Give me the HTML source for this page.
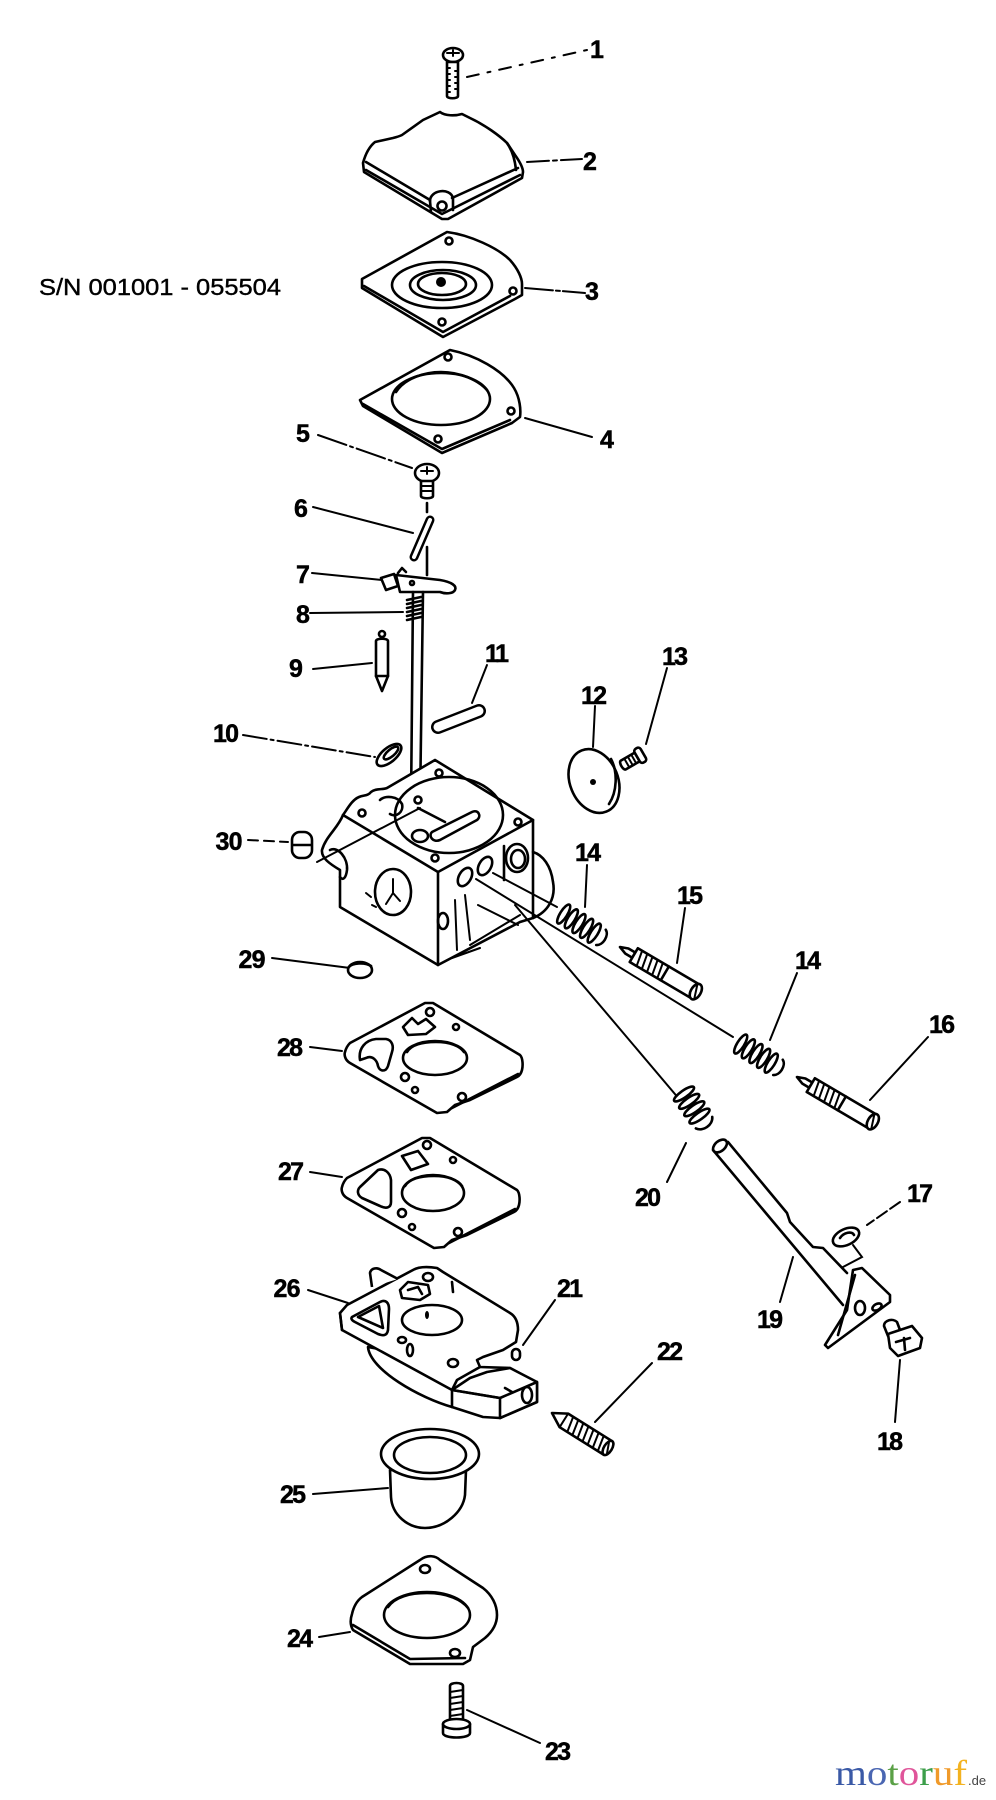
<!DOCTYPE html>
<html><head><meta charset="utf-8"><style>
html,body{margin:0;padding:0;background:#fff;}
svg{display:block;}
.o{fill:none;stroke:#000;stroke-width:2.6;stroke-linejoin:round;stroke-linecap:round;}
.t{fill:none;stroke:#000;stroke-width:2;stroke-linecap:round;}
.w{fill:#fff;stroke:#000;stroke-width:2.6;stroke-linejoin:round;}
.l{font-family:"Liberation Sans",Arial,sans-serif;font-weight:bold;font-size:25px;fill:#000;text-anchor:middle;stroke:#000;stroke-width:0.5;}
</style></head><body>
<svg width="996" height="1800" viewBox="0 0 996 1800" xmlns="http://www.w3.org/2000/svg">
<rect width="996" height="1800" fill="#fff"/>

<!-- S/N text -->
<text x="39" y="295" font-family="Liberation Sans, Arial, sans-serif" font-size="23" textLength="242" lengthAdjust="spacingAndGlyphs" stroke="#000" stroke-width="0.4">S/N 001001 - 055504</text>

<!-- Part 1 screw -->
<ellipse class="w" cx="453" cy="55" rx="10" ry="7"/>
<path class="t" d="M447,53 L459,53 M453,50 L453,56"/>
<path class="w" d="M447,62 L458,62 L458,96 C458,99 447,99 447,96 Z"/>
<path class="t" d="M447,68 L450,68 M447,74 L450,74 M447,80 L450,80 M447,86 L450,86 M447,92 L450,92 M455,71 L458,71 M455,77 L458,77 M455,83 L458,83 M455,89 L458,89"/>
<line class="t" x1="467" y1="77" x2="587" y2="50" stroke-dasharray="12,9,3,9"/>

<!-- Part 2 cover -->
<path class="o" d="M440,112 C445,116 455,116 462,114 L470,118 C485,125 500,136 507,143 L515,155 C520,162 523,168 523,172 L522,178 L448,219 L442,219 L364,172 L363,163 C366,152 370,146 375,142 L393,138 C397,137 400,136 402,135 L423,120 Z"/>
<path class="o" d="M366,162 L430,200 M452,198 L518,168 M507,143 C512,150 515,160 516,170"/>
<path class="o" d="M430,201 C430,190 450,187 453,198 L453,210"/>
<path class="o" d="M430,201 L431,212"/>
<circle class="o" cx="442" cy="206" r="4.5"/>
<path class="o" d="M366,170 L442,214 L520,175"/>
<line class="t" x1="527" y1="162" x2="582" y2="159" stroke-dasharray="22,4,4,4"/>

<!-- Part 3 diaphragm -->
<path class="o" d="M447,232 C470,235 498,248 510,260 C518,269 522,278 522,284 L522,295 L515,299 L443,337 L362,288 L362,279 Z"/>
<path class="o" d="M364,286 L443,332 L510,296"/>
<ellipse class="o" cx="442" cy="285" rx="50" ry="23"/>
<ellipse class="o" cx="443" cy="285" rx="33" ry="15"/>
<ellipse class="o" cx="442" cy="284" rx="24" ry="11"/>
<circle cx="441" cy="282" r="5" fill="#000"/>
<circle class="o" cx="449" cy="241" r="3.5"/>
<circle class="o" cx="513" cy="291" r="3.5"/>
<circle class="o" cx="442" cy="322" r="3.5"/>
<line class="t" x1="525" y1="288" x2="585" y2="293" stroke-dasharray="28,3,4,3"/>

<!-- Part 4 gasket -->
<path class="o" d="M450,350 C475,355 503,370 514,388 C520,398 521,410 520,417 L512,423 L442,453 L363,406 L360,400 Z"/>
<path class="o" d="M363,404 L442,449 L510,420"/>
<ellipse class="o" cx="441" cy="399" rx="49" ry="26"/>
<path class="o" d="M396,392 C405,378 425,372 441,372 C460,372 478,380 487,390"/>
<circle class="o" cx="448" cy="357" r="3.5"/>
<circle class="o" cx="511" cy="411" r="3.5"/>
<circle class="o" cx="438" cy="439" r="3.5"/>
<line class="t" x1="525" y1="418" x2="592" y2="437"/>

<!-- Part 5 screw -->
<line class="t" x1="318" y1="435" x2="412" y2="468" stroke-dasharray="30,4,3,4"/>
<ellipse class="w" cx="427" cy="473" rx="12" ry="9"/>
<path class="t" d="M421,471 L433,471 M427,467 L427,474"/>
<path class="w" d="M421,481 L433,481 L433,496 C433,499 421,499 421,496 Z"/>
<path class="t" d="M421,486 L433,486 M421,491 L433,491"/>
<line class="o" x1="427" y1="503" x2="427" y2="512"/>

<!-- Part 6 -->
<line class="t" x1="313" y1="507" x2="413" y2="533"/>
<line x1="430" y1="520" x2="414" y2="557" stroke="#000" stroke-width="9" stroke-linecap="round"/>
<line x1="430" y1="520" x2="414" y2="557" stroke="#fff" stroke-width="4" stroke-linecap="round"/>
<line class="o" x1="427" y1="547" x2="427" y2="575"/>

<!-- Part 7 lever -->
<line class="t" x1="312" y1="573" x2="382" y2="580"/>
<path class="w" d="M396,575 L440,580 C452,582 457,586 455,590 C453,594 445,594 440,592 L400,592 Z"/>
<path class="w" d="M381,578 L394,574 L398,586 L386,590 Z"/>
<path class="o" d="M398,573 L402,568 L406,572"/>
<circle class="o" cx="412" cy="583" r="2"/>

<!-- Rod (throttle shaft) -->
<line class="o" x1="413" y1="592" x2="411" y2="806"/>
<line class="o" x1="423" y1="592" x2="420" y2="806"/>

<!-- Part 8 spring -->
<line class="t" x1="310" y1="613" x2="403" y2="612"/>
<path class="o" d="M407,600 L421,597 M407,604 L421,601 M407,608 L421,605 M407,612 L421,609 M407,616 L421,613 M407,620 L421,617"/>

<!-- Part 9 -->
<line class="t" x1="313" y1="669" x2="372" y2="663"/>
<circle class="o" cx="382" cy="634" r="3"/>
<path class="w" d="M376,641 C376,638 388,638 388,641 L388,676 L382,691 L376,676 Z"/>
<line class="o" x1="376" y1="676" x2="388" y2="676"/>

<!-- Part 11 -->
<line class="t" x1="487" y1="665" x2="472" y2="703"/>
<line x1="438" y1="727" x2="479" y2="711" stroke="#000" stroke-width="14" stroke-linecap="round"/>
<line x1="438" y1="727" x2="479" y2="711" stroke="#fff" stroke-width="9" stroke-linecap="round"/>

<!-- Part 10 -->
<line class="t" x1="243" y1="735" x2="375" y2="757" stroke-dasharray="24,4,3,4"/>
<ellipse class="o" cx="389" cy="755" rx="15" ry="7" transform="rotate(-40 389 755)"/>
<ellipse class="o" cx="391" cy="753" rx="9" ry="3.5" transform="rotate(-40 391 753)"/>

<!-- Part 12 disc -->
<line class="t" x1="595" y1="706" x2="593" y2="747"/>
<ellipse class="o" cx="594" cy="781" rx="24" ry="33" transform="rotate(-22 594 781)"/>
<path class="o" d="M611,759 C618,772 617,792 609,804"/>
<circle cx="593" cy="782" r="3" fill="#000"/>

<!-- Part 13 screw -->
<line class="t" x1="667" y1="668" x2="646" y2="744"/>
<g transform="translate(632,760) rotate(-30)">
<path class="w" d="M-10,-5 L6,-5 L6,5 L-10,5 C-13,5 -13,-5 -10,-5 Z"/>
<path class="t" d="M-6,-5 L-6,5 M-2,-5 L-2,5 M2,-5 L2,5"/>
<rect class="w" x="6" y="-8" width="7" height="16" rx="3"/>
</g>

<!-- Carburetor body -->
<path class="w" d="M343,815 C338,828 326,836 322,850 C321,858 330,864 340,870 L340,907 L438,965 L520,922 L533,918 C548,912 556,898 553,882 C551,866 543,855 533,852 L533,820 Z"/>
<path class="w" d="M435,760 L533,820 L438,872 L343,815 C348,808 352,800 359,797 C364,795 368,796 371,792 C376,788 382,790 387,788 Z"/>
<line class="o" x1="438" y1="872" x2="438" y2="965"/>
<ellipse class="o" cx="449" cy="815" rx="54" ry="38"/>
<path class="o" d="M380,800 C385,795 398,796 402,804 C404,812 396,818 390,814"/>
<path class="o" d="M432,832 L472,812 C478,809 482,816 477,820 L440,840 C433,843 428,836 432,832 Z"/>
<path class="o" d="M418,808 L445,822"/>
<circle class="o" cx="418" cy="800" r="3.5"/>
<ellipse class="o" cx="420" cy="836" rx="8" ry="6"/>
<circle class="o" cx="439" cy="773" r="3.5"/>
<circle class="o" cx="362" cy="813" r="3.5"/>
<circle class="o" cx="518" cy="822" r="3.5"/>
<circle class="o" cx="435" cy="858" r="3.5"/>
<line class="t" x1="317" y1="862" x2="420" y2="808"/>
<path class="o" d="M330,850 C338,846 348,858 347,870 C346,878 343,881 340,877"/>
<ellipse class="o" cx="393" cy="892" rx="18" ry="23"/>
<path class="t" d="M393,879 L393,893 L386,904 M393,893 L400,901"/>
<path class="t" d="M366,893 L371,897 M372,905 L376,907"/>
<ellipse class="o" cx="465" cy="877" rx="6" ry="10" transform="rotate(30 465 877)"/>
<ellipse class="o" cx="485" cy="866" rx="6" ry="10" transform="rotate(30 485 866)"/>
<ellipse class="o" cx="517" cy="858" rx="11" ry="14"/>
<ellipse class="o" cx="518" cy="859" rx="7" ry="9"/>
<path class="o" d="M504,846 L504,880"/>
<ellipse class="o" cx="443" cy="921" rx="5" ry="8"/>
<path class="t" d="M455,900 L457,950 M465,895 L470,940 M470,945 L520,915 M478,905 L518,925 M452,958 L480,948"/>
<path class="o" d="M533,852 L533,918"/>

<!-- Part 30 -->
<line class="t" x1="248" y1="840" x2="288" y2="842" stroke-dasharray="10,6"/>
<rect class="w" x="292" y="832" width="20" height="26" rx="8"/>
<line class="o" x1="293" y1="845" x2="311" y2="845"/>

<!-- Part 29 -->
<line class="t" x1="272" y1="958" x2="350" y2="968"/>
<ellipse class="w" cx="360" cy="970" rx="12" ry="8"/>
<path class="o" d="M349,967 C352,963 365,962 371,966"/>

<!-- exploded lines -->
<line class="t" x1="493" y1="873" x2="557" y2="907"/>
<line class="t" x1="476" y1="879" x2="733" y2="1037"/>
<line class="t" x1="515" y1="905" x2="680" y2="1100"/>

<!-- Spring 14a -->
<line class="t" x1="587" y1="865" x2="585" y2="907"/>
<g transform="translate(562,913) rotate(32)">
<ellipse class="o" cx="2" cy="0" rx="3.5" ry="11"/><ellipse class="o" cx="11" cy="0" rx="3.5" ry="11"/><ellipse class="o" cx="20" cy="0" rx="3.5" ry="11"/><ellipse class="o" cx="29" cy="0" rx="3.5" ry="11"/><ellipse class="o" cx="38" cy="0" rx="3.5" ry="11"/><path class="o" d="M46,-9 C52,-6 52,6 46,9"/>
</g>

<!-- Part 15 -->
<line class="t" x1="685" y1="908" x2="677" y2="963"/>
<g transform="translate(620,947) rotate(30.5)">
<path class="w" d="M0,0 L8,-3 L16,-3 L16,3 L8,3 Z"/>
<path class="w" d="M16,-8 L88,-8 L88,8 L16,8 Z"/>
<path class="t" d="M21,-8 L24,8 M27,-8 L30,8 M33,-8 L36,8 M39,-8 L42,8 M45,-8 L48,8"/>
<line class="o" x1="52" y1="-8" x2="52" y2="8"/>
<ellipse class="w" cx="88" cy="0" rx="5" ry="8.5"/>
<line class="t" x1="86" y1="-6" x2="90" y2="6"/>
</g>

<!-- Spring 14b -->
<line class="t" x1="797" y1="973" x2="770" y2="1040"/>
<g transform="translate(739,1043) rotate(32)">
<ellipse class="w" cx="2" cy="0" rx="3.5" ry="11"/><ellipse class="o" cx="11" cy="0" rx="3.5" ry="11"/><ellipse class="o" cx="20" cy="0" rx="3.5" ry="11"/><ellipse class="o" cx="29" cy="0" rx="3.5" ry="11"/><ellipse class="o" cx="38" cy="0" rx="3.5" ry="11"/><path class="o" d="M46,-9 C52,-6 52,6 46,9"/>
</g>

<!-- Part 16 -->
<line class="t" x1="928" y1="1037" x2="870" y2="1100"/>
<g transform="translate(797,1077) rotate(30.5)">
<path class="w" d="M0,0 L8,-3 L16,-3 L16,3 L8,3 Z"/>
<path class="w" d="M16,-8 L88,-8 L88,8 L16,8 Z"/>
<path class="t" d="M21,-8 L24,8 M27,-8 L30,8 M33,-8 L36,8 M39,-8 L42,8 M45,-8 L48,8"/>
<line class="o" x1="52" y1="-8" x2="52" y2="8"/>
<ellipse class="w" cx="88" cy="0" rx="5" ry="8.5"/>
<line class="t" x1="86" y1="-6" x2="90" y2="6"/>
</g>

<!-- Spring 20 -->
<g transform="translate(684,1094) rotate(55)">
<ellipse class="w" cx="0" cy="0" rx="3.5" ry="12"/><ellipse class="o" cx="9" cy="0" rx="3.5" ry="12"/><ellipse class="o" cx="18" cy="0" rx="3.5" ry="12"/><ellipse class="o" cx="27" cy="0" rx="3.5" ry="12"/><path class="o" d="M35,-10 C42,-6 42,6 35,10"/>
</g>
<line class="t" x1="667" y1="1182" x2="686" y2="1143"/>

<!-- Part 19 -->
<path class="o" d="M713,1150 L843,1305"/>
<path class="o" d="M728,1142 L787,1213 L790,1222 L813,1247 L823,1248 L847,1273"/>
<ellipse class="w" cx="720" cy="1146" rx="8" ry="5" transform="rotate(-40 720 1146)"/>
<path class="w" d="M853,1270 L862,1268 L890,1295 L890,1302 L828,1348 L825,1345 L847,1310 Z"/>
<path class="o" d="M855,1275 L838,1335"/>
<ellipse class="o" cx="860" cy="1308" rx="5" ry="7"/>
<ellipse class="o" cx="877" cy="1307" rx="5" ry="3" transform="rotate(-30 877 1307)"/>
<line class="t" x1="780" y1="1302" x2="793" y2="1257"/>
<!-- Part 17 -->
<line class="t" x1="900" y1="1202" x2="867" y2="1225" stroke-dasharray="12,4"/>
<ellipse class="o" cx="846" cy="1237" rx="14" ry="8" transform="rotate(-25 846 1237)"/>
<path class="o" d="M840,1238 C844,1232 852,1231 854,1235"/>
<path class="t" d="M853,1245 L862,1257 L843,1267"/>
<!-- Part 18 -->
<line class="t" x1="895" y1="1422" x2="900" y2="1360"/>
<path class="w" d="M884,1326 C884,1320 893,1318 897,1322 L900,1330 L888,1336 Z"/>
<path class="w" d="M888,1334 L912,1326 L922,1338 L920,1348 L898,1356 L890,1348 Z"/>
<path class="o" d="M896,1342 L910,1338 M904,1338 L905,1350"/>

<!-- Part 28 gasket -->
<line class="t" x1="310" y1="1047" x2="342" y2="1051"/>
<path class="o" d="M425,1003 L433,1003 L520,1055 C523,1058 523,1066 522,1070 C521,1074 519,1076 517,1077 L470,1100 L455,1105 L447,1112 L437,1113 L350,1063 C345,1060 344,1055 345,1052 C346,1048 348,1045 350,1043 Z"/>
<path class="o" d="M452,1108 L518,1074"/>
<ellipse class="o" cx="435" cy="1058" rx="32" ry="17"/>
<path class="o" d="M407,1052 C412,1044 424,1042 436,1042 C450,1042 460,1046 464,1052"/>
<path class="o" d="M360,1060 C358,1048 366,1040 376,1039 L386,1039 C392,1040 394,1046 392,1052 L388,1066 C386,1072 380,1072 378,1066 C377,1060 372,1055 366,1058 Z"/>
<path class="o" d="M403,1027 L412,1018 L418,1024 L426,1019 L435,1027 L426,1034 L408,1035 Z"/>
<circle class="o" cx="430" cy="1012" r="4"/>
<circle class="o" cx="456" cy="1027" r="3"/>
<circle class="o" cx="405" cy="1077" r="4"/>
<circle class="o" cx="415" cy="1090" r="3"/>
<circle class="o" cx="462" cy="1097" r="4"/>

<!-- Part 27 gasket -->
<line class="t" x1="310" y1="1172" x2="342" y2="1177"/>
<path class="o" d="M422,1138 L430,1138 L517,1190 C520,1193 520,1201 519,1205 C518,1209 516,1211 514,1212 L467,1235 L452,1240 L444,1247 L434,1248 L347,1198 C342,1195 341,1190 342,1187 C343,1183 345,1180 347,1178 Z"/>
<path class="o" d="M449,1243 L515,1209"/>
<ellipse class="o" cx="433" cy="1193" rx="31" ry="18"/>
<path class="o" d="M405,1186 C410,1178 422,1176 434,1176 C448,1176 458,1180 462,1186"/>
<path class="o" d="M378,1170 C384,1168 390,1172 391,1180 L391,1202 C391,1208 386,1209 380,1206 L362,1198 C357,1195 357,1190 360,1187 Z"/>
<path class="o" d="M402,1156 L418,1151 L428,1164 L411,1170 Z"/>
<circle class="o" cx="427" cy="1145" r="4"/>
<circle class="o" cx="453" cy="1160" r="3"/>
<circle class="o" cx="402" cy="1213" r="4"/>
<circle class="o" cx="412" cy="1227" r="3"/>
<circle class="o" cx="458" cy="1232" r="4"/>

<!-- Part 26 -->
<line class="t" x1="308" y1="1290" x2="348" y2="1303"/>
<path class="w" d="M368,1347 C370,1370 420,1398 452,1407 L483,1417 L500,1418 L537,1402 L537,1383 L510,1368 L480,1367 Z"/>
<path class="w" d="M340,1313 L347,1305 L413,1270 C418,1267 425,1266 437,1268 L443,1272 L510,1313 C515,1316 518,1322 518,1330 L516,1342 L503,1350 L483,1357 L477,1360 L480,1367 L457,1380 L452,1390 L342,1330 Z"/>
<path class="o" d="M340,1313 L342,1330"/>
<path class="o" d="M452,1390 L452,1407"/>
<path class="w" d="M452,1390 L470,1378 L487,1372 L510,1368 L537,1382 L537,1402 L500,1418 L500,1398 Z"/>
<path class="o" d="M452,1390 L500,1398 L537,1382"/>
<ellipse class="o" cx="527" cy="1395" rx="5" ry="8"/>
<path class="o" d="M505,1388 L512,1392"/>
<path class="w" d="M372,1287 L370,1273 C371,1268 377,1267 381,1270 L398,1279"/>
<ellipse class="o" cx="432" cy="1320" rx="30" ry="15"/>
<ellipse cx="427" cy="1315" rx="2" ry="4" fill="#000"/>
<path class="o" d="M352,1317 L380,1302 C386,1299 389,1303 389,1309 L388,1330 C387,1336 383,1336 378,1334 L355,1322 C351,1320 351,1318 352,1317 Z"/>
<path class="o" d="M358,1317 L379,1306 L383,1328 Z"/>
<path class="o" d="M400,1290 L408,1282 L428,1285 L430,1294 L420,1300 L402,1298 Z"/>
<path class="o" d="M408,1290 L418,1287 L422,1294"/>
<ellipse class="o" cx="428" cy="1277" rx="5" ry="4"/>
<path class="o" d="M452,1282 L453,1292"/>
<ellipse class="o" cx="402" cy="1340" rx="4" ry="3"/>
<ellipse class="o" cx="410" cy="1350" rx="3" ry="6"/>
<ellipse class="o" cx="453" cy="1363" rx="5" ry="4"/>

<!-- Part 21 -->
<line class="t" x1="555" y1="1300" x2="523" y2="1345"/>
<rect class="o" x="512" y="1349" width="8" height="11" rx="4"/>

<!-- Part 22 -->
<line class="t" x1="652" y1="1363" x2="595" y2="1422"/>
<g transform="translate(552,1413) rotate(32)">
<path class="w" d="M0,0 L14,-8 L66,-8 L66,8 L14,8 Z"/>
<path class="t" d="M14,-8 L14,8 M20,-8 L23,8 M26,-8 L29,8 M32,-8 L35,8 M38,-8 L41,8 M44,-8 L47,8 M50,-8 L53,8 M56,-8 L59,8"/>
<ellipse class="w" cx="66" cy="0" rx="4" ry="8"/>
<line class="t" x1="64" y1="-5" x2="68" y2="5"/>
</g>

<!-- Part 25 cup -->
<line class="t" x1="313" y1="1494" x2="388" y2="1488"/>
<path class="w" d="M390,1470 L391,1497 C392,1515 408,1528 425,1528 C445,1528 463,1512 465,1495 L466,1470 Z"/>
<ellipse class="w" cx="430" cy="1454" rx="49" ry="25"/>
<ellipse class="o" cx="430" cy="1455" rx="36" ry="18"/>

<!-- Part 24 -->
<line class="t" x1="319" y1="1637" x2="350" y2="1632"/>
<path class="o" d="M420,1560 C428,1554 436,1556 440,1560 L483,1588 C492,1595 497,1605 497,1615 C497,1625 492,1632 485,1638 L473,1647 L470,1660 L463,1664 L410,1664 L353,1630 C350,1625 350,1620 352,1614 C354,1605 358,1600 362,1597 Z"/>
<path class="o" d="M353,1625 L410,1659 L465,1658"/>
<ellipse class="o" cx="427" cy="1615" rx="43" ry="23"/>
<path class="o" d="M388,1607 C395,1597 410,1593 427,1593 C448,1593 462,1600 468,1608"/>
<ellipse class="o" cx="425" cy="1569" rx="5" ry="4"/>
<ellipse class="o" cx="455" cy="1653" rx="5" ry="4"/>

<!-- Part 23 screw -->
<line class="t" x1="467" y1="1710" x2="540" y2="1743"/>
<path class="w" d="M450,1686 C450,1682 463,1682 463,1686 L463,1722 L450,1722 Z"/>
<path class="t" d="M450,1692 L463,1690 M450,1698 L463,1696 M450,1704 L463,1702 M450,1710 L463,1708 M450,1716 L463,1714"/>
<path class="w" d="M443,1724 L443,1733 C443,1739 470,1739 470,1733 L470,1724 Z"/>
<ellipse class="w" cx="456.5" cy="1724" rx="13.5" ry="5"/>

<!-- Labels -->
<text class="l" x="597" y="58">1</text>
<text class="l" x="590" y="170">2</text>
<text class="l" x="592" y="300">3</text>
<text class="l" x="607" y="448">4</text>
<text class="l" x="303" y="442">5</text>
<text class="l" x="301" y="517">6</text>
<text class="l" x="303" y="583">7</text>
<text class="l" x="303" y="623">8</text>
<text class="l" x="296" y="677">9</text>
<text class="l" x="226" y="742" textLength="26">10</text>
<text class="l" x="497" y="662" textLength="24">11</text>
<text class="l" x="594" y="704" textLength="26">12</text>
<text class="l" x="675" y="665" textLength="26">13</text>
<text class="l" x="588" y="861" textLength="26">14</text>
<text class="l" x="690" y="904" textLength="26">15</text>
<text class="l" x="808" y="969" textLength="26">14</text>
<text class="l" x="942" y="1033" textLength="26">16</text>
<text class="l" x="648" y="1206" textLength="26">20</text>
<text class="l" x="920" y="1202" textLength="26">17</text>
<text class="l" x="770" y="1328" textLength="26">19</text>
<text class="l" x="890" y="1450" textLength="26">18</text>
<text class="l" x="290" y="1056" textLength="26">28</text>
<text class="l" x="291" y="1180" textLength="26">27</text>
<text class="l" x="287" y="1297" textLength="27">26</text>
<text class="l" x="570" y="1297" textLength="26">21</text>
<text class="l" x="670" y="1360" textLength="26">22</text>
<text class="l" x="293" y="1503" textLength="26">25</text>
<text class="l" x="300" y="1647" textLength="26">24</text>
<text class="l" x="558" y="1760" textLength="26">23</text>
<text class="l" x="229" y="850" textLength="27">30</text>
<text class="l" x="252" y="968" textLength="27">29</text>

<!-- Logo -->
<text x="835" y="1785" font-family="Liberation Serif, serif" font-size="36" textLength="132" lengthAdjust="spacingAndGlyphs"><tspan fill="#3a59a6">m</tspan><tspan fill="#4a66b2">o</tspan><tspan fill="#5aa046">t</tspan><tspan fill="#e0559a">o</tspan><tspan fill="#3c9e4a">r</tspan><tspan fill="#f09a2a">u</tspan><tspan fill="#f3b21f">f</tspan></text>
<text x="968" y="1785" font-family="Liberation Sans, sans-serif" font-size="13" fill="#444">.de</text>
</svg>
</body></html>
